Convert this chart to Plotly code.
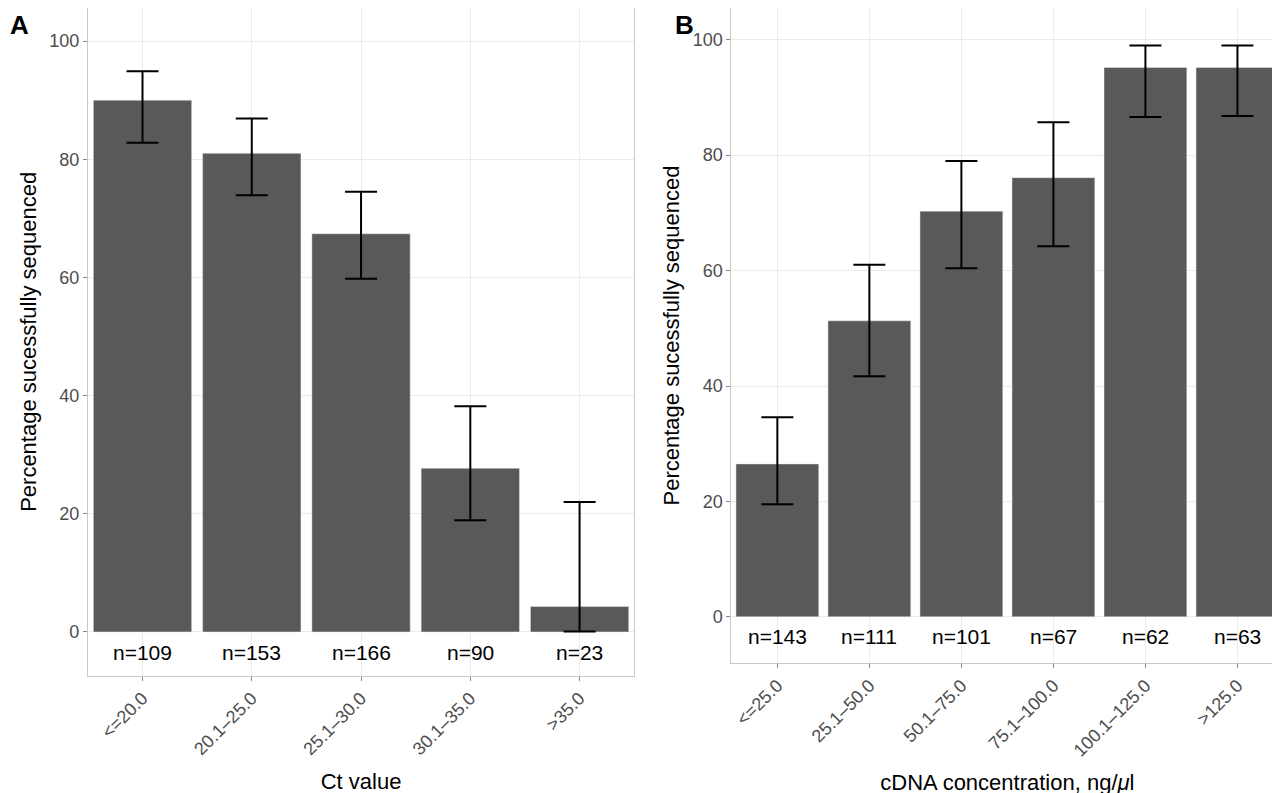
import plotly.graph_objects as go
from plotly.subplots import make_subplots

ct_cats = ["<=20.0", "20.1\u201325.0", "25.1\u201330.0", "30.1\u201335.0", ">35.0"]
ct_pct = [90.0, 81.0, 67.4, 27.7, 4.3]
ct_lo = [82.8, 73.9, 59.8, 18.9, 0.1]
ct_hi = [94.9, 86.9, 74.5, 38.2, 22.0]
ct_n = [109, 153, 166, 90, 23]

cd_cats = ["<=25.0", "25.1\u201350.0", "50.1\u201375.0", "75.1\u2013100.0", "100.1\u2013125.0", ">125.0"]
cd_pct = [26.5, 51.3, 70.3, 76.1, 95.2, 95.2]
cd_lo = [19.5, 41.7, 60.4, 64.2, 86.6, 86.8]
cd_hi = [34.6, 61.0, 79.0, 85.7, 99.0, 99.0]
cd_n = [143, 111, 101, 67, 62, 63]

fig = make_subplots(1, 2)

def add_panel(cats, pct, lo, hi, n, col):
    fig.add_trace(go.Bar(
        x=cats, y=pct, marker_color="#595959", width=0.9,
        error_y=dict(type="data", symmetric=False,
                     array=[h - p for h, p in zip(hi, pct)],
                     arrayminus=[p - l for p, l in zip(pct, lo)],
                     color="black", thickness=2, width=16),
        showlegend=False), 1, col)
    xr = "x" if col == 1 else "x2"
    yr = "y" if col == 1 else "y2"
    for c, k in zip(cats, n):
        fig.add_annotation(x=c, y=-3.4, xref=xr, yref=yr, text=f"n={k}",
                           showarrow=False, font=dict(size=21, color="black"))

add_panel(ct_cats, ct_pct, ct_lo, ct_hi, ct_n, 1)
add_panel(cd_cats, cd_pct, cd_lo, cd_hi, cd_n, 2)

axis_style = dict(showgrid=True, gridcolor="#ebebeb", linecolor="#c8c8c8", mirror=True,
                  showline=True, ticks="outside", tickcolor="#888", ticklen=4,
                  tickfont=dict(size=18, color="#4d4d4d"), zeroline=False, automargin=False)
title_font = dict(size=22, color="black")
fig.update_xaxes(**axis_style, tickangle=-45)
fig.update_yaxes(**axis_style, tickvals=[0, 20, 40, 60, 80, 100])
fig.update_xaxes(domain=[0.0625, 0.49], title=dict(text="Ct value", font=title_font), row=1, col=1)
fig.update_xaxes(domain=[0.566, 0.998], title=dict(text="cDNA concentration, ng/<i>\u03bc</i>l", font=title_font), row=1, col=2)
fig.update_yaxes(domain=[0.158, 1.0], range=[-7.4, 105.6],
                 title=dict(text="Percentage sucessfully sequenced", font=title_font, standoff=6), row=1, col=1)
fig.update_yaxes(domain=[0.174, 1.0], range=[-8, 105.5],
                 title=dict(text="Percentage sucessfully sequenced", font=title_font, standoff=6), row=1, col=2)

for txt, xp in [("A", 0.0), ("B", 0.52)]:
    fig.add_annotation(x=xp, y=1.0, xref="paper", yref="paper", text=f"<b>{txt}</b>",
                       showarrow=False, xanchor="left", yanchor="top", font=dict(size=26, color="black"))

fig.update_layout(width=1280, height=793, plot_bgcolor="white", paper_bgcolor="white",
                  margin=dict(l=0, r=2, t=0, b=0, autoexpand=False), bargap=0.1,
                  font=dict(family="Liberation Sans, Arial, sans-serif"))
fig.write_html("out.html")
